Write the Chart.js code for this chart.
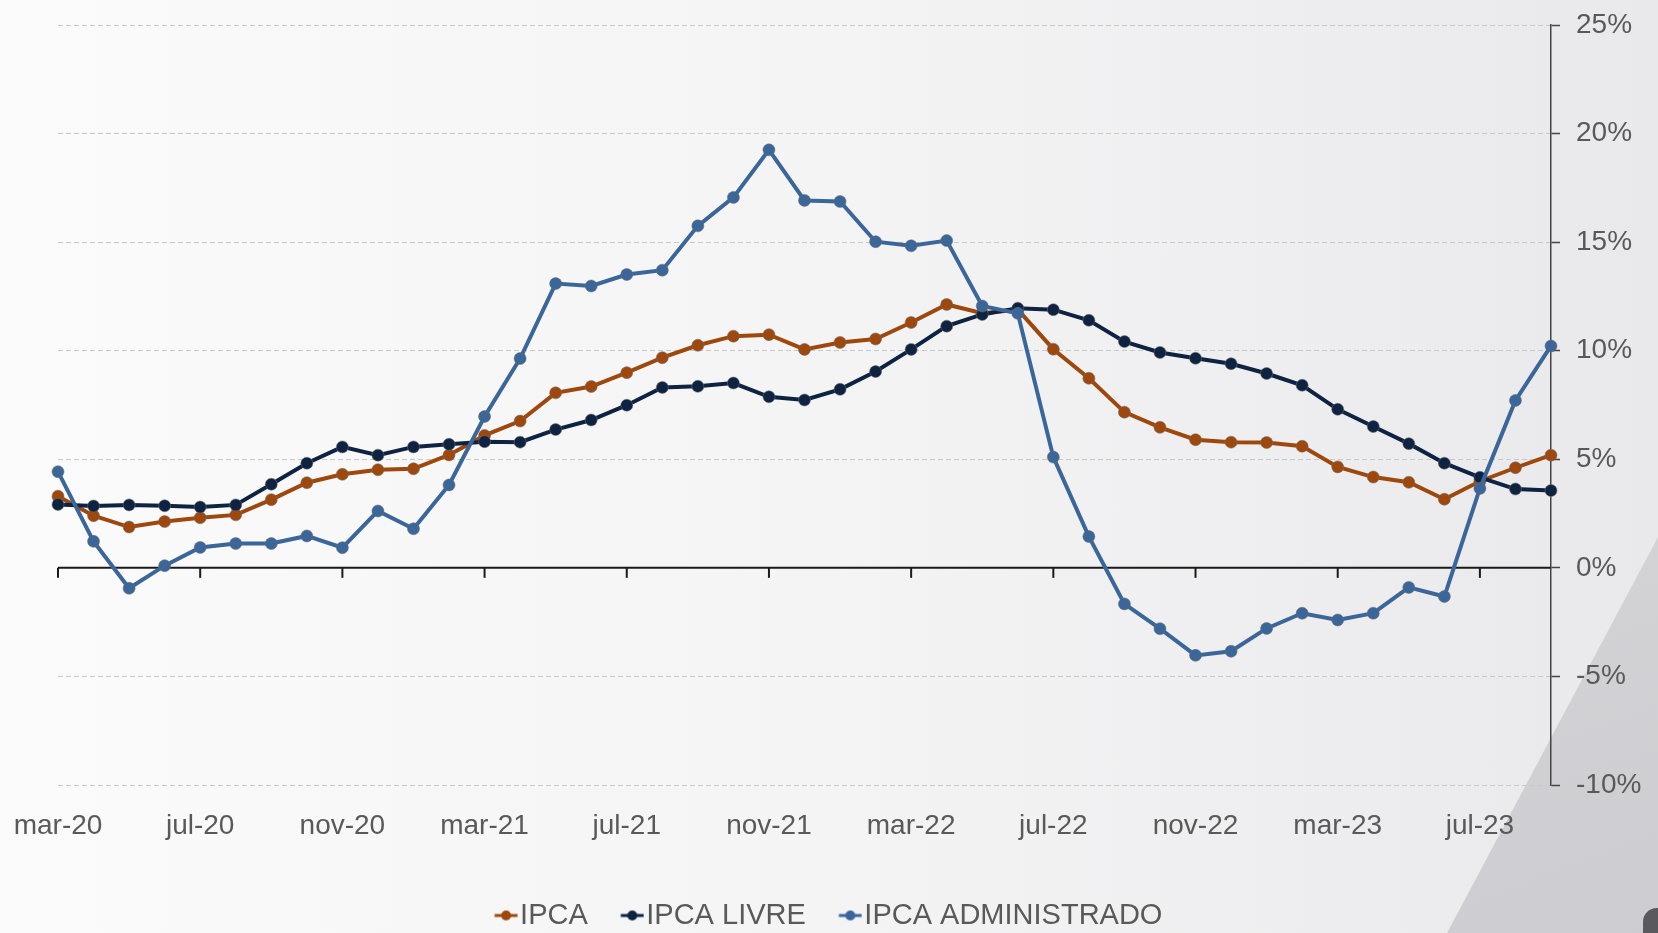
<!DOCTYPE html>
<html>
<head>
<meta charset="utf-8">
<title>IPCA, IPCA Livre e IPCA Administrado</title>
<script src="https://cdn.jsdelivr.net/npm/chart.js@4.4.1/dist/chart.umd.min.js"></script>
<style>
  html, body { margin: 0; padding: 0; }
  body {
    width: 1658px; height: 933px; overflow: hidden; position: relative;
    background: linear-gradient(90deg, #fbfbfb 0%, #f4f4f5 50%, #e9e9eb 100%);
  }
  .deco {
    position: absolute; left: 0; top: 0; width: 1658px; height: 933px;
    clip-path: polygon(1658px 537px, 1658px 933px, 1447px 933px);
    background: linear-gradient(160deg, #e2e2e5 0%, #d6d6d9 60%, #cdcdd1 100%);
  }
  .knob {
    position: absolute; left: 1643px; top: 908px; width: 40px; height: 60px;
    border-radius: 14px; background: #5a5a5e;
  }
  canvas { position: absolute; left: 0; top: 0; }
</style>
</head>
<body>
<div class="deco"></div>
<div class="knob"></div>
<canvas id="chart" width="1658" height="933"></canvas>
<script>
// IPCA acumulado em 12 meses: geral, preços livres e administrados
const months = [
  'mar-20', 'abr-20', 'mai-20', 'jun-20', 'jul-20', 'ago-20', 'set-20', 'out-20', 'nov-20', 'dez-20',
  'jan-21', 'fev-21', 'mar-21', 'abr-21', 'mai-21', 'jun-21', 'jul-21', 'ago-21', 'set-21', 'out-21', 'nov-21', 'dez-21',
  'jan-22', 'fev-22', 'mar-22', 'abr-22', 'mai-22', 'jun-22', 'jul-22', 'ago-22', 'set-22', 'out-22', 'nov-22', 'dez-22',
  'jan-23', 'fev-23', 'mar-23', 'abr-23', 'mai-23', 'jun-23', 'jul-23', 'ago-23', 'set-23'
];

const ipca = [
  3.30, 2.40, 1.88, 2.13, 2.31, 2.44, 3.14, 3.92, 4.31, 4.52,
  4.56, 5.20, 6.10, 6.76, 8.06, 8.35, 8.99, 9.68, 10.25, 10.67, 10.74, 10.06,
  10.38, 10.54, 11.30, 12.13, 11.73, 11.89, 10.07, 8.73, 7.17, 6.47, 5.90, 5.79,
  5.77, 5.60, 4.65, 4.18, 3.94, 3.16, 3.99, 4.61, 5.19
];

const ipcaLivre = [
  2.92, 2.85, 2.90, 2.86, 2.80, 2.90, 3.85, 4.82, 5.57, 5.19,
  5.57, 5.69, 5.81, 5.79, 6.37, 6.81, 7.49, 8.31, 8.36, 8.51, 7.88, 7.73,
  8.22, 9.04, 10.06, 11.13, 11.67, 11.96, 11.89, 11.40, 10.42, 9.92, 9.65, 9.40,
  8.95, 8.41, 7.30, 6.51, 5.72, 4.82, 4.17, 3.63, 3.56
];

const ipcaAdm = [
  4.43, 1.22, -0.94, 0.10, 0.94, 1.12, 1.12, 1.47, 0.93, 2.62,
  1.80, 3.82, 6.97, 9.64, 13.09, 12.98, 13.51, 13.71, 15.75, 17.06, 19.25, 16.92,
  16.87, 15.02, 14.83, 15.07, 12.06, 11.72, 5.10, 1.44, -1.66, -2.80, -4.03, -3.84,
  -2.79, -2.09, -2.40, -2.09, -0.90, -1.32, 3.66, 7.71, 10.22
];

const seriesNames = ['IPCA', 'IPCA LIVRE', 'IPCA ADMINISTRADO'];
const seriesColors = ['#9e480e', '#0e2341', '#3a6699'];

const FONT = "'Liberation Sans', Arial, sans-serif";
const TEXT = '#595959';

// legend marker: short line with a dot, like the original
function marker(color) {
  const c = document.createElement('canvas');
  c.width = 26; c.height = 14;
  const g = c.getContext('2d');
  g.strokeStyle = color; g.lineWidth = 3;
  g.beginPath(); g.moveTo(2.5, 7); g.lineTo(25.5, 7); g.stroke();
  g.fillStyle = color;
  g.beginPath(); g.arc(14, 7, 5, 0, Math.PI * 2); g.fill();
  return c;
}

function series(i, data, order) {
  return {
    label: seriesNames[i],
    data: data,
    yAxisID: 'y',
    borderColor: seriesColors[i],
    backgroundColor: seriesColors[i],
    borderWidth: 4,
    pointRadius: 6,
    pointBorderWidth: 1,
    pointBorderColor: 'rgba(110,110,110,0.55)',
    pointBackgroundColor: seriesColors[i],
    tension: 0,
    order: order
  };
}

// zero line with small ticks at the labelled months
const zeroLine = {
  id: 'zeroLine',
  beforeDatasetsDraw(chart) {
    const { ctx, chartArea, scales } = chart;
    const y0 = scales.y.getPixelForValue(0);
    ctx.save();
    ctx.strokeStyle = '#1a1a1a';
    ctx.lineWidth = 2;
    ctx.beginPath();
    ctx.moveTo(chartArea.left, y0);
    ctx.lineTo(chartArea.right, y0);
    ctx.stroke();
    months.forEach((m, i) => {
      if (i % 4 !== 0) return;
      const x = scales.x.getPixelForValue(i);
      ctx.beginPath();
      ctx.moveTo(x, y0);
      ctx.lineTo(x, y0 + 10);
      ctx.stroke();
    });
    ctx.restore();
  }
};

const chart = new Chart(document.getElementById('chart'), {
  type: 'line',
  data: {
    labels: months,
    datasets: [
      series(0, ipca, 2),
      series(1, ipcaLivre, 1),
      series(2, ipcaAdm, 0)
    ]
  },
  options: {
    responsive: false,
    animation: false,
    layout: { autoPadding: false, padding: { left: 23, right: 14, top: 25, bottom: -7 } },
    scales: {
      x: {
        grid: { display: false },
        border: { display: false },
        ticks: {
          autoSkip: false,
          maxRotation: 0,
          padding: 5,
          color: TEXT,
          font: { family: FONT, size: 28, lineHeight: 2 },
          callback: function (v, i) { return i % 4 === 0 ? months[i] : ''; }
        },
        afterFit(scale) { scale.height = 73; }
      },
      // empty spacer on the left, keeps the legend centred on the page
      spacer: {
        position: 'left',
        grid: { display: false },
        border: { display: false },
        ticks: { display: false },
        afterFit(scale) { scale.width = 35; }
      },
      y: {
        position: 'right',
        min: -10,
        max: 25,
        grid: {
          color: ctx => ctx.tick && ctx.tick.value === 0 ? 'rgba(0,0,0,0)' : '#c9c9c9',
          lineWidth: 1,
          tickLength: 9,
          tickColor: '#444',
          tickWidth: 1.5
        },
        border: { display: true, color: '#444', width: 1.5, dash: [5, 3] },
        ticks: {
          stepSize: 5,
          padding: 16,
          color: TEXT,
          font: { family: FONT, size: 28, lineHeight: 0.5 },
          callback: v => v + '%'
        },
        afterFit(scale) { scale.width = 93; }
      }
    },
    plugins: {
      legend: {
        position: 'bottom',
        labels: {
          usePointStyle: true,
          pointStyleWidth: 1,
          padding: 43,
          color: TEXT,
          font: { family: FONT, size: 29 },
          sort: (a, b) => a.datasetIndex - b.datasetIndex,
          generateLabels(ch) {
            const items = Chart.defaults.plugins.legend.labels.generateLabels(ch);
            items.forEach(it => { it.pointStyle = marker(seriesColors[it.datasetIndex]); });
            return items;
          }
        }
      },
      tooltip: { enabled: false }
    }
  },
  plugins: [zeroLine]
});
</script>
</body>
</html>
